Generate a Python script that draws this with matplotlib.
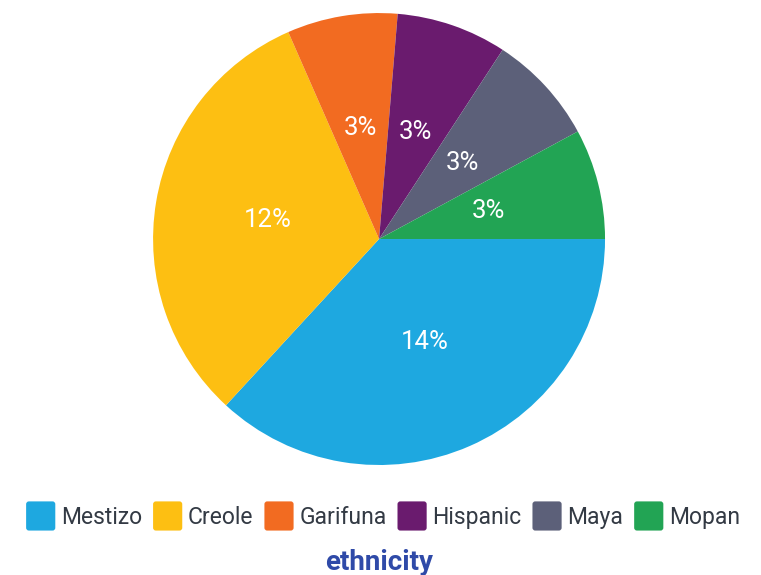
import matplotlib.pyplot as plt
from matplotlib.patches import FancyBboxPatch
from matplotlib.legend_handler import HandlerPatch

# ethnic groups and their shares
groups = ["Mestizo", "Creole", "Garifuna", "Hispanic", "Maya", "Mopan"]
shares = [14, 12, 3, 3, 3, 3]
colors = ["#1EA8E0", "#FDBF12", "#F26B21", "#6A1B6E", "#5C6079", "#22A454"]

plt.rcParams['font.family'] = ['Roboto', 'DejaVu Sans']

fig = plt.figure(figsize=(7.61, 5.75), dpi=100)
ax = fig.add_axes([0.2011, 0.1913, 0.594, 0.786])

total = sum(shares)
wedges, texts, autotexts = ax.pie(
    shares, colors=colors, startangle=0, counterclock=False,
    pctdistance=0.5,
    autopct=lambda p: f"{round(p * total / 100)}%",
    wedgeprops=dict(linewidth=0),
    textprops=dict(color="white", fontsize=18.5),
)
ax.set_xlim(-1, 1)
ax.set_ylim(-1, 1)
ax.set_aspect("equal")


class RoundBox(HandlerPatch):
    def create_artists(self, legend, orig_handle, xdescent, ydescent,
                       width, height, fontsize, trans):
        size = 21
        p = FancyBboxPatch((-xdescent + width - size, -ydescent + height / 2 - size / 2),
                           size, size, boxstyle="round,pad=0,rounding_size=2",
                           facecolor=orig_handle.get_facecolor(), edgecolor="none",
                           transform=trans)
        return [p]


fig.legend(wedges, groups, loc="center", bbox_to_anchor=(0.503, 0.1),
           ncol=6, frameon=False, fontsize=16.5, labelcolor="#333a44",
           handler_map={w: RoundBox() for w in wedges},
           handlelength=1.3, handletextpad=0.25, columnspacing=0.45)

fig.text(0.498, 0.022, "ethnicity", ha="center", va="center",
         fontsize=20, fontweight="bold", color="#2F4AA8")

fig.savefig("out.png", dpi=100)
